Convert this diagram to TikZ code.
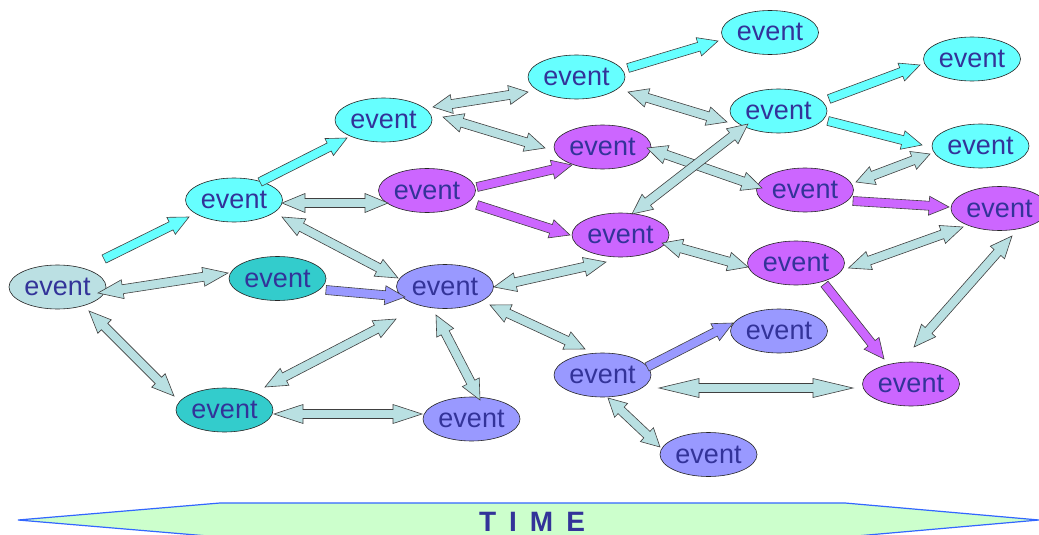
\documentclass[tikz,border=0pt]{standalone}
\usepackage{fontspec}
\setmainfont{Liberation Sans}
\usetikzlibrary{calc,shapes.geometric}
\definecolor{evtext}{RGB}{51,51,153}
\definecolor{cyanev}{RGB}{102,255,255}
\definecolor{tealev}{RGB}{51,204,204}
\definecolor{lightev}{RGB}{187,224,227}
\definecolor{purpev}{RGB}{204,102,255}
\definecolor{blueev}{RGB}{153,153,255}
\definecolor{linkfill}{RGB}{185,224,226}
\definecolor{timefill}{RGB}{204,255,204}
\definecolor{timeline}{RGB}{51,102,255}
\newcommand\shw{4.5pt}
\newcommand\hdw{9.5pt}
% single block arrow: [head length]{fill}{from}{offset}{to}{offset}
\newcommand\sarr[6][20pt]{%
  \coordinate (aS) at ($(#3)+(#4)$);
  \coordinate (aE) at ($(#5)+(#6)$);
  \coordinate (aH) at ($(aE)!#1!(aS)$);
  \draw[arrowline, fill=#2] ($(aS)!\shw!90:(aE)$) -- ($(aH)!\shw!90:(aE)$) -- ($(aH)!\hdw!90:(aE)$) -- (aE)
     -- ($(aH)!\hdw!-90:(aE)$) -- ($(aH)!\shw!-90:(aE)$) -- ($(aS)!\shw!-90:(aE)$) -- cycle;
}
% double block arrow
\newcommand\darr[5][20pt]{%
  \coordinate (aS) at ($(#2)+(#3)$);
  \coordinate (aE) at ($(#4)+(#5)$);
  \coordinate (aH) at ($(aS)!#1!(aE)$);
  \coordinate (aK) at ($(aE)!#1!(aS)$);
  \draw[arrowline, fill=linkfill] (aS) -- ($(aH)!\hdw!90:(aE)$) -- ($(aH)!\shw!90:(aE)$) -- ($(aK)!\shw!90:(aE)$)
     -- ($(aK)!\hdw!90:(aE)$) -- (aE) -- ($(aK)!\hdw!-90:(aE)$) -- ($(aK)!\shw!-90:(aE)$)
     -- ($(aH)!\shw!-90:(aE)$) -- ($(aH)!\hdw!-90:(aE)$) -- cycle;
}
\tikzset{
  ev/.style={ellipse, draw=black!85, line width=0.6pt, minimum width=97pt, minimum height=44pt,
    inner sep=0pt, text=evtext, font=\fontsize{27}{30}\selectfont, text height=17pt, text depth=0pt},
  arrowline/.style={draw=black!75, line width=0.6pt, line join=miter},
}
\begin{document}
\begin{tikzpicture}[x=1pt,y=-1pt]
\useasboundingbox[fill=white] (0,0) rectangle (1039,535);
% events
\node[ev, fill=lightev] (L0) at (57.5,287) {event};
\node[ev, fill=tealev] (T1) at (277.5,278.5) {event};
\node[ev, fill=tealev] (T2) at (224.5,410) {event};
\node[ev, fill=cyanev] (C1) at (234,200) {event};
\node[ev, fill=cyanev] (C2) at (383.5,120) {event};
\node[ev, fill=cyanev] (C3) at (576.5,77) {event};
\node[ev, fill=cyanev] (C4) at (770,32.5) {event};
\node[ev, fill=cyanev] (C5) at (778.5,111) {event};
\node[ev, fill=cyanev] (C6) at (972,59) {event};
\node[ev, fill=cyanev] (C7) at (980.5,146) {event};
\node[ev, fill=purpev] (P1) at (427,190.5) {event};
\node[ev, fill=purpev] (P2) at (602.5,147) {event};
\node[ev, fill=purpev] (P3) at (620.5,235) {event};
\node[ev, fill=purpev] (P4) at (805,190) {event};
\node[ev, fill=purpev] (P5) at (999.5,208.5) {event};
\node[ev, fill=purpev] (P6) at (796,263) {event};
\node[ev, fill=purpev] (P7) at (911,384) {event};
\node[ev, fill=blueev] (B1) at (445,286.5) {event};
\node[ev, fill=blueev] (B2) at (471.5,419) {event};
\node[ev, fill=blueev] (B3) at (602.5,375) {event};
\node[ev, fill=blueev] (B4) at (779,331) {event};
\node[ev, fill=blueev] (B5) at (708.5,454.5) {event};
% two-way links
\darr[25pt]{L0}{40.5,6}{T1}{-49.5,-5.5}
\darr[22pt]{L0}{31.5,24}{T2}{-50.5,-14}
\darr[22pt]{T2}{40.5,-23}{B1}{-49,32.5}
\darr[29pt]{T2}{49.5,4}{B2}{-49.5,-5}
\darr[23pt]{C1}{48,3}{P1}{-39,12.5}
\darr[22pt]{C1}{48,17}{B1}{-47,-8.5}
\darr[22pt]{B1}{49,0.5}{P3}{-14.5,27}
\darr{B1}{-9,28.5}{B2}{8.5,-19}
\darr{B1}{45,18.5}{B3}{-17.5,-26}
\darr[19pt]{C2}{49.5,-13}{C3}{-48.5,15}
\darr{C2}{59.5,-3}{P2}{-57.5,1}
\darr{C3}{51.5,15}{C5}{-51.5,11}
\darr{P2}{44.5,1}{P4}{-43,-2}
\darr{P3}{11.5,-21}{C5}{-30.5,13}
\darr{P3}{41.5,8}{P6}{-48,4}
\darr[18pt]{C7}{-50.5,8}{P4}{51,-8}
\darr[22pt]{P6}{52.5,5}{P5}{-36.5,18.5}
\darr[22pt]{P7}{3,-37}{P5}{12.5,27.5}
\darr[40pt]{B3}{56.5,13}{P7}{-58,4}
\darr[18pt]{B3}{5.5,23}{B5}{-48.5,-7.5}
% one-way links
\sarr{cyanev}{L0}{46.5,-28}{C1}{-45,17}
\sarr{cyanev}{C1}{26,-18}{C2}{-36.5,18}
\sarr{cyanev}{C3}{51.5,-9}{C4}{-52,8.5}
\sarr{cyanev}{C5}{50.5,-12}{C6}{-52,6}
\sarr{cyanev}{C5}{49.5,10}{C7}{-58.5,-1}
\sarr{blueev}{T1}{48.5,11.5}{B1}{-40,10.5}
\sarr{purpev}{P1}{50,-3.5}{P2}{-30.5,18}
\sarr{purpev}{P1}{50,14.5}{P3}{-50.5,0}
\sarr{purpev}{P4}{48,11}{P5}{-50.5,-1.5}
\sarr{purpev}{P6}{28.5,21}{P7}{-27,-25}
\sarr{blueev}{B3}{44.5,-8}{B4}{-46,-8}
% time bar
\draw[draw=timeline, line width=1.2pt, fill=timefill, line join=miter]
  (18,520) -- (220,503) -- (845,503) -- (1039,520) -- (845,537) -- (220,537) -- cycle;
\node[text=evtext, font=\bfseries\fontsize{28}{30}\selectfont, inner sep=0pt] (time) at (532,521.5)
  {T\hspace{13pt}I\hspace{13pt}M\hspace{13pt}E};
\end{tikzpicture}
\end{document}
